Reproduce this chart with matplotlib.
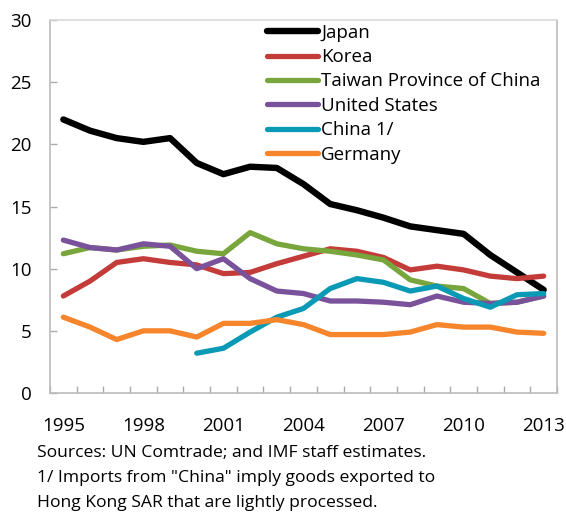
import numpy as np
import matplotlib
matplotlib.use("Agg")
import matplotlib.pyplot as plt

plt.rcParams['font.family'] = ['Open Sans', 'DejaVu Sans']

# data (share of imports, percent)
years = list(range(1995, 2014))

japan = [22.0, 21.1, 20.5, 20.2, 20.5, 18.5, 17.6, 18.2, 18.1, 16.8,
         15.2, 14.7, 14.1, 13.4, 13.1, 12.8, 11.1, 9.7, 8.3]
korea = [7.8, 9.0, 10.5, 10.8, 10.5, 10.3, 9.6, 9.7, 10.4, 11.0,
         11.6, 11.4, 10.9, 9.9, 10.2, 9.9, 9.4, 9.2, 9.4]
taiwan = [11.2, 11.7, 11.5, 11.8, 11.9, 11.4, 11.2, 12.9, 12.0, 11.6,
          11.4, 11.1, 10.7, 9.1, 8.6, 8.4, 7.2, 7.3, 7.8]
usa = [12.3, 11.7, 11.5, 12.0, 11.8, 10.0, 10.8, 9.2, 8.2, 8.0,
       7.4, 7.4, 7.3, 7.1, 7.8, 7.3, 7.2, 7.3, 7.8]
china = [np.nan] * 5 + [3.2, 3.6, 4.9, 6.1, 6.8,
                        8.4, 9.2, 8.9, 8.2, 8.6, 7.6, 6.9, 7.9, 8.0]
germany = [6.1, 5.3, 4.3, 5.0, 5.0, 4.5, 5.6, 5.6, 5.9, 5.5,
           4.7, 4.7, 4.7, 4.9, 5.5, 5.3, 5.3, 4.9, 4.8]

names = ["Japan", "Korea", "Taiwan Province of China", "United States",
         "China 1/", "Germany"]
series = [japan, korea, taiwan, usa, china, germany]
colors = ["#000000", "#C33C39", "#78A53C", "#7A519B", "#0A9AB5", "#F6852C"]
widths = [4.6, 3.8, 3.8, 3.8, 3.8, 3.8]

fig = plt.figure(figsize=(5.66, 5.19), dpi=100)
ax = fig.add_axes([50/566, 1-393/519, 507/566, 373/519])

x = np.arange(len(years))
for s, name, c, lw in zip(series, names, colors, widths):
    ax.plot(x, s, color=c, lw=lw, label=name, solid_capstyle='round',
            solid_joinstyle='round')

ax.set_xlim(-0.5, len(years) - 0.5)
ax.set_ylim(0, 30)
ax.set_yticks(range(0, 31, 5))
ax.set_xticks(x[::3])
ax.set_xticklabels([str(y) for y in years[::3]])
ax.set_xticks(np.arange(-0.5, len(years), 1.0), minor=True)

ax.tick_params(axis='x', which='major', length=0, pad=17, labelsize=13.5)
ax.tick_params(axis='x', which='minor', direction='in', length=5,
               color='#AAAAAA', width=1)
ax.tick_params(axis='y', direction='in', length=5, color='#AAAAAA',
               width=1, pad=13, labelsize=13.5)

for sp in ax.spines.values():
    sp.set_color('#BBBBBB')
    sp.set_linewidth(1.2)
ax.spines['top'].set_color('#D8D8D8')

leg = ax.legend(loc='upper left', bbox_to_anchor=(0.428, 0.99),
                frameon=False, fontsize=13.5, handlelength=2.7,
                handletextpad=0.2, labelspacing=0.34, borderpad=0,
                borderaxespad=0)

notes = ["Sources: UN Comtrade; and IMF staff estimates.",
         "1/ Imports from \"China\" imply goods exported to",
         "Hong Kong SAR that are lightly processed."]
for i, t in enumerate(notes):
    fig.text(37/566, 1 - (453 + 25*i)/519, t, fontsize=12.6,
             va='center', ha='left')

fig.savefig("out.png", dpi=100)
